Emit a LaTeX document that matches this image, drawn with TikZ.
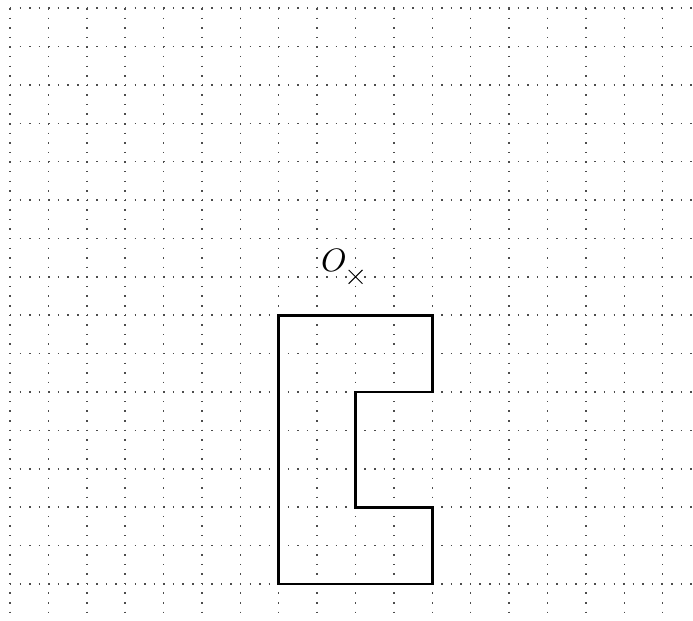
\documentclass[tikz,border=0pt]{standalone}
\usetikzlibrary{calc}
\begin{document}
\begin{tikzpicture}[
    gridline/.style={black!70, line width=1.1pt, dash pattern=on 1.1pt off 6pt},
    shapeline/.style={black, line width=2pt, line join=miter},
  ]
        \useasboundingbox (-0.26, 0.21) rectangle (17.79, -15.94);

        % dotted grid
        \foreach \x in {0,...,17}
            \draw[gridline] (\x, 0) -- (\x, -15.94);
        \foreach \y in {0,...,15}
            \draw[gridline] (0, -\y) -- (17.79, -\y);

        % centre O
        \coordinate (O) at (9, -7);
        \draw[line width=0.7pt] ($(O)+(-0.18,-0.18)$) -- ($(O)+(0.18,0.18)$);
        \draw[line width=0.7pt] ($(O)+(-0.18,0.18)$) -- ($(O)+(0.18,-0.18)$);
        \node[scale=2.4] (Olabel) at (8.44, -6.58) {$O$};

        % shape
        \draw[shapeline] (7, -8) -- (11, -8) -- (11, -10) -- (9, -10) -- (9, -13)
            -- (11, -13) -- (11, -15) -- (7, -15) -- cycle;
\end{tikzpicture}
\end{document}
